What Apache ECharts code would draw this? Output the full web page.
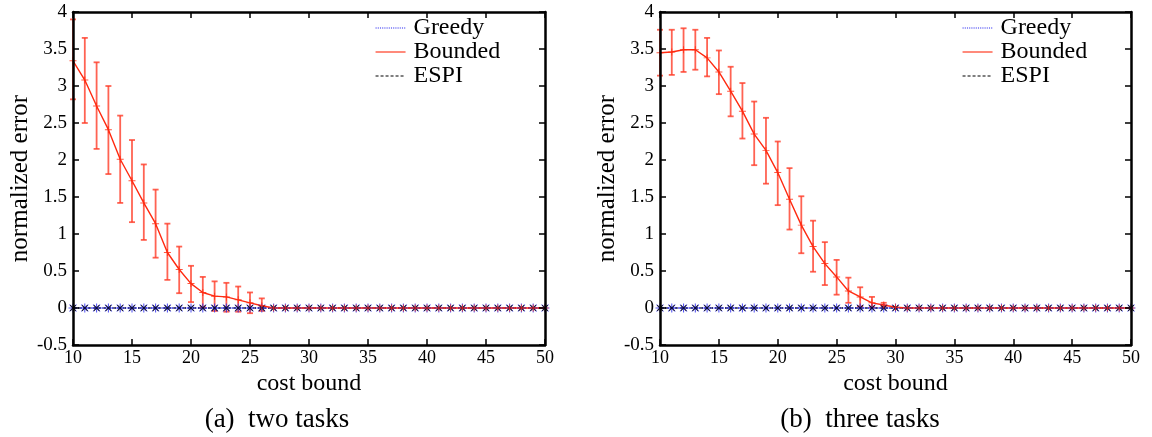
<!DOCTYPE html>
<html>
<head>
<meta charset="utf-8">
<title>normalized error vs cost bound</title>
<script src="https://cdn.jsdelivr.net/npm/echarts@6/dist/echarts.min.js"></script>
<style>
  html, body { margin: 0; background: #fff; }
  #chart { width: 1152px; height: 437px; }
</style>
</head>
<body>
<div id="chart"></div>
<script>
'use strict';

// x axis: cost bound
const costBounds = [10, 11, 12, 13, 14, 15, 16, 17, 18, 19, 20, 21, 22, 23, 24, 25, 26, 27, 28, 29, 30,
  31, 32, 33, 34, 35, 36, 37, 38, 39, 40, 41, 42, 43, 44, 45, 46, 47, 48, 49, 50];
const xTicks = [10, 15, 20, 25, 30, 35, 40, 45, 50];
const yTicks = [-0.5, 0, 0.5, 1, 1.5, 2, 2.5, 3, 3.5, 4];

// (a) two tasks
const boundedTwo = [3.34, 3.08, 2.73, 2.41, 2.01, 1.72, 1.42, 1.14, 0.75, 0.52, 0.33, 0.21, 0.16, 0.15, 0.11, 0.07, 0.03,
  0, 0, 0, 0, 0, 0, 0, 0, 0, 0, 0, 0, 0, 0, 0, 0, 0, 0, 0, 0, 0, 0, 0, 0];
const greedyTwo = [0, 0, 0, 0, 0, 0, 0, 0, 0, 0, 0, 0, 0, 0, 0, 0, 0, 0, 0, 0, 0,
  0, 0, 0, 0, 0, 0, 0, 0, 0, 0, 0, 0, 0, 0, 0, 0, 0, 0, 0, 0];
const espiTwo = [0, 0, 0, 0, 0, 0, 0, 0, 0, 0, 0, 0, 0, 0, 0, 0, 0, 0, 0, 0, 0,
  0, 0, 0, 0, 0, 0, 0, 0, 0, 0, 0, 0, 0, 0, 0, 0, 0, 0, 0, 0];
// error bars of Bounded, cost bound 10..26
const errHighTwo = [3.90, 3.65, 3.32, 3.00, 2.60, 2.27, 1.94, 1.60, 1.14, 0.83, 0.57, 0.42, 0.36, 0.34, 0.29, 0.21, 0.13];
const errLowTwo = [2.82, 2.50, 2.15, 1.81, 1.42, 1.16, 0.92, 0.68, 0.38, 0.20, 0.08, 0.01, -0.04, -0.05, -0.05, -0.07, -0.04];

// (b) three tasks
const boundedThree = [3.45, 3.46, 3.49, 3.49, 3.38, 3.19, 2.93, 2.66, 2.35, 2.13, 1.83, 1.47, 1.12, 0.83, 0.60, 0.42, 0.23,
  0.15, 0.07, 0.04, 0.01, 0, 0, 0, 0, 0, 0, 0, 0, 0, 0, 0, 0, 0, 0, 0, 0, 0, 0, 0, 0];
const greedyThree = [0, 0, 0, 0, 0, 0, 0, 0, 0, 0, 0, 0, 0, 0, 0, 0, 0, 0, 0, 0, 0,
  0, 0, 0, 0, 0, 0, 0, 0, 0, 0, 0, 0, 0, 0, 0, 0, 0, 0, 0, 0];
const espiThree = [0, 0, 0, 0, 0, 0, 0, 0, 0, 0, 0, 0, 0, 0, 0, 0, 0, 0, 0, 0, 0,
  0, 0, 0, 0, 0, 0, 0, 0, 0, 0, 0, 0, 0, 0, 0, 0, 0, 0, 0, 0];
// error bars of Bounded, cost bound 10..29
const errHighThree = [3.76, 3.76, 3.78, 3.76, 3.65, 3.48, 3.26, 3.04, 2.79, 2.57, 2.25, 1.89, 1.51, 1.18, 0.89, 0.65, 0.41, 0.28, 0.15, 0.07];
const errLowThree = [3.14, 3.15, 3.19, 3.22, 3.13, 2.89, 2.59, 2.29, 1.93, 1.68, 1.39, 1.06, 0.74, 0.49, 0.31, 0.18, 0.07, 0.02, 0.01, 0.02];

const legendNames = ['Greedy', 'Bounded', 'ESPI'];
const captions = ['(a)  two tasks', '(b)  three tasks'];

(function () {
  const font = 'Liberation Serif';
  const red = '#ff2a10';
  const blue = '#2b2bf0';

  const plusSymbol = 'path://M4.3,0H5.7V4.3H10V5.7H5.7V10H4.3V5.7H0V4.3H4.3Z';
  const starSymbol = 'path://M4.4,0H5.6V10H4.4Z M0,4.4H10V5.6H0Z M1.5,0.7L9.3,8.5L8.5,9.3L0.7,1.5Z M8.5,0.7L9.3,1.5L1.5,9.3L0.7,8.5Z';

  const chart = echarts.init(document.getElementById('chart'), null, { renderer: 'canvas' });

  function pairs(values) {
    return values.map(function (v, i) { return [costBounds[i], v]; });
  }

  function errRows(high, low) {
    return high.map(function (h, i) { return [costBounds[i], h, low[i]]; });
  }

  function renderErrorBar(params, api) {
    const top = api.coord([api.value(0), api.value(1)]);
    const bot = api.coord([api.value(0), api.value(2)]);
    const w = 3;
    const style = { stroke: 'rgba(255,60,40,0.8)', lineWidth: 1.8 };
    return {
      type: 'group',
      children: [
        { type: 'line', shape: { x1: top[0], y1: top[1], x2: bot[0], y2: bot[1] }, style: style },
        { type: 'line', shape: { x1: top[0] - w, y1: top[1], x2: top[0] + w, y2: top[1] }, style: style },
        { type: 'line', shape: { x1: bot[0] - w, y1: bot[1], x2: bot[0] + w, y2: bot[1] }, style: style }
      ]
    };
  }

  const frameLine = { show: true, onZero: false, lineStyle: { color: '#000', width: 2.5 } };
  const tick = { show: true, inside: true, length: 6, lineStyle: { color: '#000', width: 1.5 } };
  const labelStyle = { fontFamily: font, fontSize: 18, color: '#000' };

  function xAxes(gridIndex) {
    const base = {
      type: 'value', gridIndex: gridIndex, min: xTicks[0], max: xTicks[xTicks.length - 1], interval: 5,
      axisLine: frameLine, axisTick: tick, splitLine: { show: false }, z: 5
    };
    return [
      Object.assign({}, base, {
        position: 'bottom',
        axisLabel: Object.assign({ margin: 4 }, labelStyle),
        name: 'cost bound', nameLocation: 'middle', nameGap: 26,
        nameTextStyle: { fontFamily: font, fontSize: 24, color: '#000' }
      }),
      Object.assign({}, base, { position: 'top', axisLabel: { show: false } })
    ];
  }

  function yAxes(gridIndex) {
    const base = {
      type: 'value', gridIndex: gridIndex, min: yTicks[0], max: yTicks[yTicks.length - 1], interval: 0.5,
      axisLine: frameLine, axisTick: tick, splitLine: { show: false }, z: 5
    };
    return [
      Object.assign({}, base, {
        position: 'left',
        axisLabel: Object.assign({ margin: 6 }, labelStyle, { fontSize: 19 }),
        name: 'normalized error', nameLocation: 'middle', nameGap: 40,
        nameTextStyle: { fontFamily: font, fontSize: 25, color: '#000' }
      }),
      Object.assign({}, base, { position: 'right', axisLabel: { show: false } })
    ];
  }

  function panelSeries(p, bounded, greedy, espi, errHigh, errLow) {
    const ax = { xAxisIndex: 2 * p, yAxisIndex: 2 * p };
    return [
      Object.assign({
        name: 'Greedy', type: 'line', data: pairs(greedy), symbol: 'none',
        lineStyle: { color: blue, type: 'dotted', width: 1.3 }, itemStyle: { color: blue }, z: 2
      }, ax),
      Object.assign({
        name: 'ESPI', type: 'line', data: pairs(espi), symbol: 'none',
        lineStyle: { color: '#000', type: [3, 2], width: 1.2 }, itemStyle: { color: '#000' }, z: 2
      }, ax),
      Object.assign({
        name: 'Bounded', type: 'line', data: pairs(bounded), symbol: 'none',
        lineStyle: { color: red, width: 1.4 }, itemStyle: { color: red }, z: 3
      }, ax),
      Object.assign({
        name: 'Bounded error', type: 'custom', data: errRows(errHigh, errLow),
        renderItem: renderErrorBar, z: 3, clip: false
      }, ax),
      Object.assign({
        name: 'Greedy points', type: 'scatter', data: pairs(greedy), symbol: starSymbol, symbolSize: 9,
        itemStyle: { color: blue }, clip: false, z: 3
      }, ax),
      Object.assign({
        name: 'ESPI points', type: 'scatter', data: pairs(espi), symbol: plusSymbol, symbolRotate: 45, symbolSize: 8,
        itemStyle: { color: '#000' }, clip: false, z: 3
      }, ax),
      Object.assign({
        name: 'Bounded points', type: 'scatter', data: pairs(bounded), symbol: plusSymbol, symbolSize: 7,
        itemStyle: { color: red }, clip: false, z: 4
      }, ax)
    ];
  }

  function legendAt(left) {
    return {
      left: left, top: 16, orient: 'vertical', padding: 0, itemGap: 0,
      itemWidth: 30, itemHeight: 10, selectedMode: false, data: legendNames,
      itemStyle: { opacity: 0 },
      lineStyle: { width: 1.1 },
      textStyle: { fontFamily: font, fontSize: 24, lineHeight: 21.5, color: '#000', padding: [0, 0, 0, 3] }
    };
  }

  function caption(text, x) {
    return {
      type: 'text', x: x, y: 420,
      style: { text: text, fontFamily: font, fontSize: 27, fill: '#000', align: 'center', verticalAlign: 'middle' }
    };
  }

  const option = {
    animation: false,
    grid: [
      { left: 73, top: 12, width: 472, height: 333 },
      { left: 660, top: 12, width: 471, height: 333 }
    ],
    xAxis: xAxes(0).concat(xAxes(1)),
    yAxis: yAxes(0).concat(yAxes(1)),
    legend: [legendAt(375), legendAt(962)],
    graphic: [caption(captions[0], 277), caption(captions[1], 860)],
    series: panelSeries(0, boundedTwo, greedyTwo, espiTwo, errHighTwo, errLowTwo)
      .concat(panelSeries(1, boundedThree, greedyThree, espiThree, errHighThree, errLowThree))
  };

  chart.setOption(option);
  window.addEventListener('resize', chart.resize);
})();
</script>
</body>
</html>
